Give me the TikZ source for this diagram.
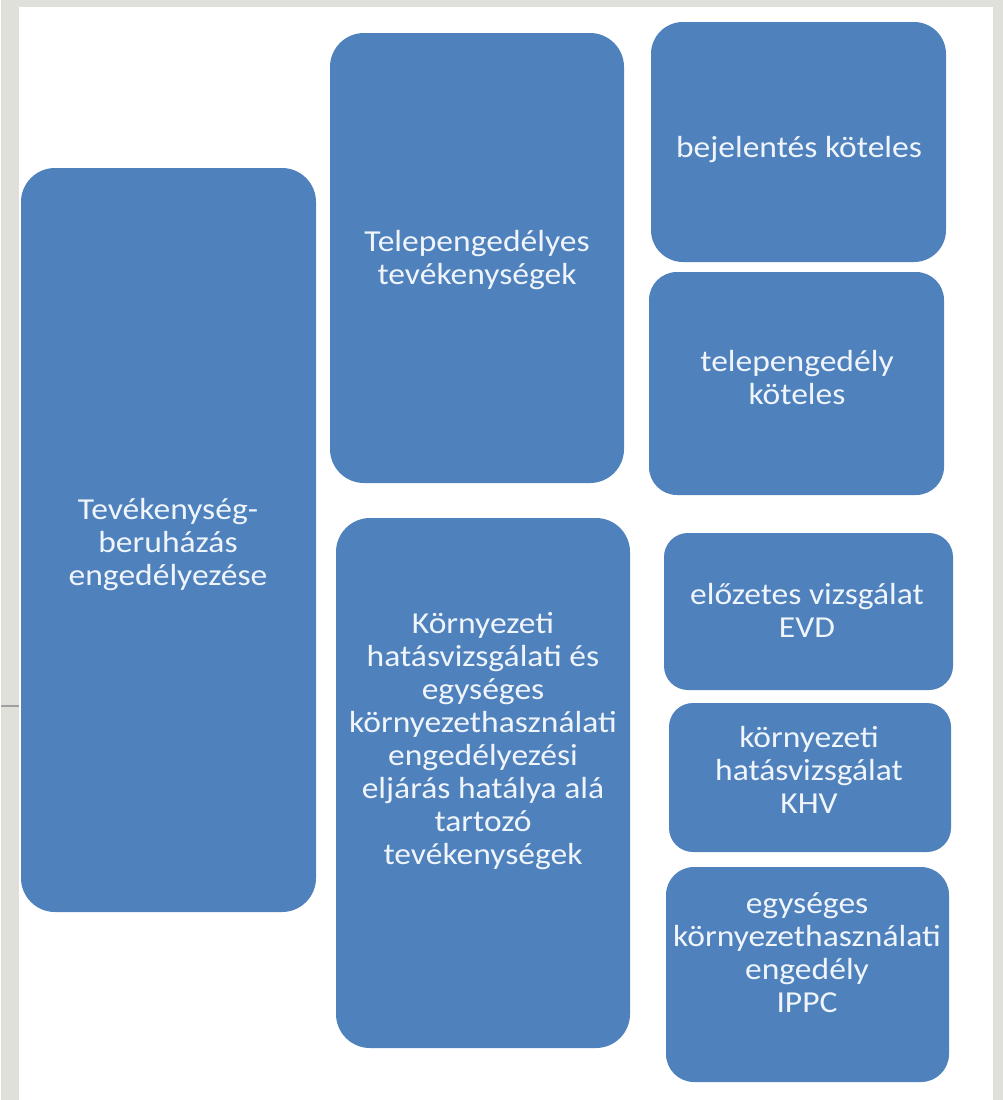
\documentclass[tikz,border=0pt]{standalone}
\usepackage{fontspec}
\setmainfont[FakeStretch=1.1]{Carlito}
\definecolor{bggray}{RGB}{224,224,218}
\definecolor{linegray}{RGB}{160,160,160}
\definecolor{boxblue}{RGB}{79,129,189}
\definecolor{txtwhite}{RGB}{240,245,252}
\begin{document}
\begin{tikzpicture}[x=1pt,y=-1pt,
  box/.style={fill=boxblue, draw=none, rounded corners=#1, inner sep=0pt},
  box/.default=30,
  txt/.style={text=txtwhite, align=center, inner sep=0pt,
    font=\fontsize{30.5}{33}\selectfont}]
% background and panel
\fill[bggray] (0,0) rectangle (1002,1100);
\fill[white] (18,7) rectangle (992,1100);
\coordinate (l0) at (0,706);
\coordinate (l1) at (18,706);
\draw[linegray, line width=2pt] (l0) -- (l1);
% boxes
\node[box=34, minimum width=295pt, minimum height=744pt] (bL) at (167.5,540) {};
\node[box=34, minimum width=294pt, minimum height=450pt] (bT) at (476,258) {};
\node[box=32, minimum width=295pt, minimum height=240pt] (bB) at (797.5,142) {};
\node[box=28, minimum width=295pt, minimum height=223pt] (bTK) at (795.5,383.5) {};
\node[box=34, minimum width=294pt, minimum height=530pt] (bK) at (482,783) {};
\node[box=24, minimum width=289pt, minimum height=157pt] (bE) at (807.5,611.5) {};
\node[box=24, minimum width=282pt, minimum height=149pt] (bH) at (809,777.5) {};
\node[box=28, minimum width=283pt, minimum height=215pt] (bI) at (806.5,974.5) {};
% texts
\node[txt] (tL) at (167,545) {Tevékenység-\\beruházás\\engedélyezése};
\node[txt] (tT) at (476,260) {Telepengedélyes\\tevékenységek};
\node[txt] (tB) at (798,150) {bejelentés köteles};
\node[txt] (tTK) at (796,378) {telepengedély\\köteles};
\node[txt] (tK) at (482,741) {Környezeti\\hatásvizsgálati és\\egységes\\környezethasználati\\engedélyezési\\eljárás hatálya alá\\tartozó\\tevékenységek};
\node[txt] (tE) at (806,610) {előzetes vizsgálat\\EVD};
\node[txt] (tH) at (808,770) {környezeti\\hatásvizsgálat\\KHV};
\node[txt] (tI) at (806,953) {egységes\\környezethasználati\\engedély\\IPPC};
\end{tikzpicture}
\end{document}
